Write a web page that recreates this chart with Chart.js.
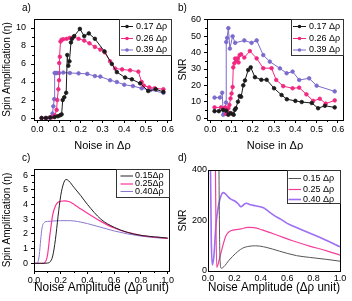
<!DOCTYPE html>
<html>
<head>
<meta charset="utf-8">
<script src="https://cdn.jsdelivr.net/npm/chart.js@4.4.1/dist/chart.umd.min.js"></script>
<style>
  body { margin: 0; background: #fff; width: 352px; height: 301px; position: relative; overflow: hidden;
         font-family: "Liberation Sans", Arial, sans-serif; }
  canvas { position: absolute; }
  .lbl { position: absolute; font-size: 10px; line-height: 10px; color: #000; }
</style>
</head>
<body>
<canvas id="ca" width="176" height="150" style="left:0;top:0"></canvas>
<canvas id="cb" width="176" height="150" style="left:176px;top:0"></canvas>
<canvas id="cc" width="176" height="151" style="left:0;top:150px"></canvas>
<canvas id="cd" width="176" height="151" style="left:176px;top:150px"></canvas>
<div class="lbl" style="left:22px;top:3px">a)</div>
<div class="lbl" style="left:178px;top:3px">b)</div>
<div class="lbl" style="left:22px;top:153px">c)</div>
<div class="lbl" style="left:178px;top:153px">d)</div>
<script>
// ---- a) spin amplification vs noise (measured points)
const aLabels = ["0.17 Δρ", "0.26 Δρ", "0.39 Δρ"];
const aBlackX = [0.02, 0.04, 0.06, 0.08, 0.095, 0.105, 0.112, 0.117, 0.124, 0.133, 0.138, 0.143, 0.148, 0.155, 0.16, 0.17, 0.196, 0.216, 0.237, 0.265, 0.309, 0.343, 0.366, 0.404, 0.435, 0.473, 0.51, 0.545, 0.58];
const aBlackY = [0, 0, 0.05, 0.1, 0.2, 0.3, 0.4, 2.0, 2.3, 2.8, 7.0, 5.8, 6.3, 8.4, 8.8, 9.1, 9.9, 9.1, 9.4, 8.8, 7.4, 6.0, 5.1, 4.5, 4.3, 3.85, 3.0, 3.2, 2.9];
const aPinkX = [0.02, 0.04, 0.06, 0.07, 0.081, 0.089, 0.092, 0.097, 0.1, 0.101, 0.104, 0.107, 0.112, 0.12, 0.135, 0.15, 0.166, 0.19, 0.216, 0.24, 0.265, 0.29, 0.31, 0.335, 0.358, 0.39, 0.427, 0.465, 0.48, 0.49, 0.515, 0.54, 0.58];
const aPinkY = [0, 0, 0.05, 0.1, 0.3, 0.9, 2.0, 3.2, 4.2, 6.1, 6.8, 8.5, 8.7, 8.75, 8.8, 8.9, 9.0, 8.8, 8.6, 8.3, 7.9, 7.6, 7.3, 6.3, 5.5, 5.4, 5.3, 5.15, 4.0, 3.6, 3.4, 3.3, 3.2];
const aPurpleX = [0.02, 0.04, 0.055, 0.065, 0.07, 0.074, 0.078, 0.08, 0.085, 0.09, 0.1, 0.12, 0.15, 0.19, 0.23, 0.265, 0.29, 0.335, 0.366, 0.4, 0.44, 0.48, 0.52, 0.58];
const aPurpleY = [0, 0, 0.05, 0.1, 0.5, 1.3, 2.1, 5.0, 5.0, 5.0, 5.0, 5.05, 5.0, 4.96, 4.9, 4.66, 4.6, 4.2, 4.0, 3.7, 3.55, 3.3, 3.1, 2.8];
const aXTicks = [0, 0.1, 0.2, 0.3, 0.4, 0.5, 0.6];
const aYTicks = [0, 2, 4, 6, 8, 10];

// ---- b) SNR vs noise (measured points)
const bBlackX = [0.02, 0.04, 0.06, 0.075, 0.085, 0.095, 0.105, 0.11, 0.115, 0.12, 0.13, 0.138, 0.145, 0.155, 0.163, 0.178, 0.19, 0.21, 0.24, 0.265, 0.3, 0.335, 0.36, 0.4, 0.43, 0.477, 0.507, 0.539, 0.585];
const bBlackY = [4.2, 4.2, 5.0, 4.5, 2.0, 3.0, 2.5, 2.0, 5.0, 6.0, 10, 13.5, 13, 20, 23, 29.4, 31, 25, 23.4, 23.4, 18.2, 14.1, 11.5, 10.5, 9.8, 9.2, 6.0, 7.5, 6.5];
const bPinkX = [0.02, 0.05, 0.07, 0.075, 0.08, 0.085, 0.09, 0.095, 0.1, 0.105, 0.108, 0.113, 0.117, 0.122, 0.128, 0.133, 0.138, 0.145, 0.16, 0.186, 0.218, 0.249, 0.288, 0.31, 0.343, 0.387, 0.418, 0.452, 0.484, 0.515, 0.543, 0.585];
const bPinkY = [6.5, 6.5, 6.5, 2.5, 4.0, 6.0, 8.0, 12, 15, 19, 31, 33.5, 36.4, 35, 36.5, 34, 38.5, 39, 37, 41, 36.5, 30.5, 30.5, 23.3, 19.5, 18.2, 18.6, 14.5, 10.5, 11.8, 8.8, 10.8];
const bPurpleX = [0.02, 0.045, 0.056, 0.061, 0.066, 0.07, 0.074, 0.075, 0.079, 0.085, 0.092, 0.105, 0.117, 0.16, 0.194, 0.218, 0.249, 0.28, 0.327, 0.359, 0.387, 0.418, 0.465, 0.5, 0.585];
const bPurpleY = [12.5, 12.5, 15.5, 2, 3, 5, 9.5, 46.5, 49, 55, 42.5, 50, 46, 47.5, 46, 47.5, 38.5, 34.5, 30.4, 27.4, 28.4, 23.3, 24.3, 19.8, 16.3];
const bYTicks = [0, 10, 20, 30, 40, 50, 60];

// ---- c) spin amplification (model curves)
const cLabels = ["0.15Δρ", "0.25Δρ", "0.40Δρ"];
const cBlackX = [0, 0.05, 0.1, 0.12, 0.14, 0.16, 0.18, 0.2, 0.22, 0.24, 0.26, 0.3, 0.35, 0.4, 0.5, 0.6, 0.7, 0.8, 0.9, 1.0];
const cBlackY = [0, 0, 0.02, 0.1, 0.5, 1.6, 3.2, 4.6, 5.4, 5.7, 5.6, 5.15, 4.6, 4.0, 3.0, 2.45, 2.1, 1.9, 1.8, 1.72];
const cPinkX = [0, 0.06, 0.08, 0.1, 0.12, 0.14, 0.16, 0.18, 0.2, 0.23, 0.26, 0.3, 0.35, 0.4, 0.5, 0.6, 0.7, 0.8, 0.9, 1.0];
const cPinkY = [0, 0, 0.05, 0.5, 2.0, 3.3, 3.9, 4.15, 4.22, 4.25, 4.2, 4.0, 3.7, 3.4, 2.85, 2.4, 2.1, 1.9, 1.78, 1.7];
const cPurpleX = [0, 0.02, 0.03, 0.04, 0.05, 0.06, 0.08, 0.1, 0.15, 0.2, 0.25, 0.3, 0.35, 0.4, 0.5, 0.6, 0.7, 0.8, 0.9, 1.0];
const cPurpleY = [0, 0, 0.1, 0.6, 1.6, 2.4, 2.8, 2.85, 2.88, 2.9, 2.9, 2.88, 2.8, 2.7, 2.45, 2.2, 2.0, 1.85, 1.75, 1.68];
const cdXTicks = [0, 0.2, 0.4, 0.6, 0.8, 1.0];
const cYTicks = [0, 1, 2, 3, 4, 5, 6];

// ---- d) SNR (model curves)
const dLabels = ["0.15 Δρ", "0.25 Δρ", "0.40 Δρ"];
const dBlackX = [0, 0.07, 0.08, 0.09, 0.1, 0.12, 0.16, 0.21, 0.26, 0.31, 0.36, 0.44, 0.54, 0.67, 0.77, 0.9, 1.0];
const dBlackY = [1500, 1200, 600, 60, 10, 16, 42, 69, 89, 97, 99, 93, 78, 60, 53, 45, 38];
const dPinkX = [0, 0.05, 0.058, 0.066, 0.084, 0.11, 0.135, 0.16, 0.2, 0.25, 0.3, 0.35, 0.41, 0.52, 0.64, 0.77, 0.9, 1.0];
const dPinkY = [1500, 800, 300, 13, 42, 95, 138, 155, 162, 166, 172, 171, 162, 142, 119, 98, 79, 62];
const dPurpleX = [0, 0.015, 0.025, 0.033, 0.045, 0.06, 0.08, 0.1, 0.115, 0.13, 0.15, 0.17, 0.2, 0.23, 0.25, 0.27, 0.29, 0.32, 0.36, 0.42, 0.46, 0.5, 0.55, 0.6, 0.7, 0.8, 0.9, 1.0];
const dPurpleY = [1500, 600, 120, 23, 60, 180, 260, 300, 310, 306, 295, 285, 278, 265, 254, 262, 268, 262, 258, 250, 235, 220, 205, 188, 165, 143, 120, 95];
const dYTicks = [0, 200, 400];

const FONT = '"Liberation Sans", Arial, sans-serif';
Chart.defaults.font.family = FONT;
Chart.defaults.color = "#000";

const pts = (xs, ys) => xs.map((x, i) => ({ x: x, y: ys[i] }));

// frame around the plot area
const frame = {
  id: "frame",
  afterDatasetsDraw(chart) {
    const { ctx, chartArea: a } = chart;
    ctx.save();
    ctx.strokeStyle = "#000";
    ctx.lineWidth = 1;
    ctx.strokeRect(a.left + 0.5, a.top + 0.5, a.right - a.left, a.bottom - a.top);
    ctx.restore();
  }
};

// small ticks half way between the labelled ones
const minorTicks = {
  id: "minorTicks",
  afterDraw(chart, args, opts) {
    if (!opts.len) return;
    const { ctx, chartArea: a, scales } = chart;
    ctx.save();
    ctx.strokeStyle = "#000";
    ctx.lineWidth = 1;
    ctx.beginPath();
    const xs = scales.x.ticks.map(t => t.value);
    for (let i = 0; i < xs.length - 1; i++) {
      const px = Math.round(scales.x.getPixelForValue((xs[i] + xs[i + 1]) / 2)) + 0.5;
      ctx.moveTo(px, a.bottom);
      ctx.lineTo(px, a.bottom + opts.len);
    }
    const ys = scales.y.ticks.map(t => t.value);
    for (let i = 0; i < ys.length - 1; i++) {
      const py = Math.round(scales.y.getPixelForValue((ys[i] + ys[i + 1]) / 2)) + 0.5;
      ctx.moveTo(a.left, py);
      ctx.lineTo(a.left - opts.len, py);
    }
    ctx.stroke();
    ctx.restore();
  }
};

// legend drawn inside a box in the upper right corner
const boxLegend = {
  id: "boxLegend",
  afterDraw(chart, args, o) {
    const { ctx } = chart;
    ctx.save();
    ctx.fillStyle = "#fff";
    ctx.fillRect(o.x, o.y, o.w, o.h);
    ctx.strokeStyle = "#333";
    ctx.lineWidth = 1;
    ctx.strokeRect(o.x + 0.5, o.y + 0.5, o.w, o.h);
    ctx.font = o.font;
    ctx.textBaseline = "middle";
    chart.data.datasets.forEach((ds, i) => {
      const y = o.y + o.rows[i];
      ctx.strokeStyle = ds.borderColor;
      ctx.lineWidth = ds.borderWidth;
      ctx.beginPath();
      ctx.moveTo(o.x + o.line[0], y);
      ctx.lineTo(o.x + o.line[1], y);
      ctx.stroke();
      if (o.marker) {
        ctx.fillStyle = ds.borderColor;
        ctx.beginPath();
        ctx.arc(o.x + (o.line[0] + o.line[1]) / 2, y, 1.8, 0, Math.PI * 2);
        ctx.fill();
      }
      ctx.fillStyle = "#000";
      ctx.fillText(ds.label, o.x + o.text, y);
    });
    ctx.restore();
  }
};

function xAxis(min, max, ticks, title, s) {
  return {
    type: "linear", min: min, max: max,
    afterBuildTicks: sc => { sc.ticks = ticks.map(v => ({ value: v })); },
    afterFit: sc => { sc.height = s.h; sc.paddingLeft = 0; sc.paddingRight = 0; },
    grid: { drawOnChartArea: false, drawTicks: true, tickLength: s.tick, color: "#000" },
    border: { color: "#000" },
    ticks: { padding: s.pad, maxRotation: 0, autoSkip: false, font: { size: 9 }, callback: v => v.toFixed(1) },
    title: { display: true, text: title, font: { size: s.fs, lineHeight: 1 }, padding: { top: 0, bottom: s.tb } }
  };
}

function yAxis(min, max, ticks, title, s) {
  return {
    type: "linear", min: min, max: max,
    afterBuildTicks: sc => { sc.ticks = ticks.map(v => ({ value: v })); },
    afterFit: sc => { sc.width = s.w; sc.paddingTop = 0; sc.paddingBottom = 0; },
    grid: { drawOnChartArea: false, drawTicks: true, tickLength: s.tick, color: "#000" },
    border: { color: "#000" },
    ticks: { padding: s.pad, autoSkip: false, font: { size: 9 }, callback: v => String(v) },
    title: { display: true, text: title, font: { size: s.fs }, padding: { top: s.tp, bottom: 0 } }
  };
}

function dotSeries(label, xs, ys, color) {
  return {
    label: label, data: pts(xs, ys), borderColor: color, backgroundColor: color,
    borderWidth: 1, pointRadius: 1.8, pointBorderWidth: 0.8, tension: 0
  };
}

function curveSeries(label, xs, ys, color, w) {
  return {
    label: label, data: pts(xs, ys), borderColor: color, backgroundColor: color,
    borderWidth: w, pointRadius: 0, cubicInterpolationMode: "monotone"
  };
}

function makeChart(id, datasets, scales, padding, legend, minorLen) {
  return new Chart(document.getElementById(id), {
    type: "line",
    data: { datasets: datasets },
    options: {
      responsive: false,
      animation: false,
      layout: { padding: padding },
      scales: scales,
      plugins: {
        legend: { display: false },
        tooltip: { enabled: false },
        boxLegend: legend,
        minorTicks: { len: minorLen }
      }
    },
    plugins: [frame, minorTicks, boxLegend]
  });
}

const BLACK = "#1a1a1a", PINK = "#f0287f", PURPLE = "#7b6acb";
const legendFont = "9px " + FONT;

makeChart("ca", [
  dotSeries(aLabels[0], aBlackX, aBlackY, BLACK),
  dotSeries(aLabels[1], aPinkX, aPinkY, PINK),
  dotSeries(aLabels[2], aPurpleX, aPurpleY, PURPLE)
], {
  x: xAxis(-0.015, 0.615, aXTicks, "Noise in Δρ", { h: 30, tick: 3, pad: 1, fs: 11, tb: -1.5 }),
  y: yAxis(-0.22, 11, aYTicks, "Spin Amplification (η)", { w: 34, tick: 3, pad: 5, fs: 10, tp: 1.5 })
}, { left: 0, top: 19, right: 5, bottom: 0 },
  { x: 119, y: 19, w: 52, h: 36, rows: [7.5, 19.5, 31], line: [2, 14], text: 17, marker: true, font: legendFont }, 2);

makeChart("cb", [
  dotSeries(aLabels[0], bBlackX, bBlackY, BLACK),
  dotSeries(aLabels[1], bPinkX, bPinkY, PINK),
  dotSeries(aLabels[2], bPurpleX, bPurpleY, PURPLE)
], {
  x: xAxis(-0.0155, 0.624, aXTicks, "Noise in Δρ", { h: 30, tick: 3, pad: 1, fs: 11, tb: -1.5 }),
  y: yAxis(-1.2, 60.6, bYTicks, "SNR", { w: 31, tick: 3, pad: 3, fs: 10.5, tp: 1.2 })
}, { left: 0, top: 19, right: 9, bottom: 0 },
  { x: 115, y: 19, w: 52, h: 36, rows: [7.5, 19.5, 31], line: [2, 15], text: 18, marker: true, font: legendFont }, 2);

makeChart("cc", [
  curveSeries(cLabels[0], cBlackX, cBlackY, "#222", 1),
  curveSeries(cLabels[1], cPinkX, cPinkY, "#ff3399", 1.2),
  curveSeries(cLabels[2], cPurpleX, cPurpleY, "#8a78d0", 1)
], {
  x: xAxis(0, 1.01, cdXTicks, "Noise Amplitude (Δρ unit)", { h: 30, tick: 3, pad: 1, fs: 12, tb: 7 }),
  y: yAxis(-0.52, 6.41, cYTicks, "Spin Amplification (η)", { w: 34, tick: 3, pad: 3, fs: 10, tp: 1.5 })
}, { left: 0, top: 19, right: 7, bottom: 0 },
  { x: 116, y: 19, w: 53, h: 28, rows: [7, 15, 22.5], line: [4.5, 17], text: 19, marker: false, font: legendFont }, 2);

makeChart("cd", [
  curveSeries(dLabels[0], dBlackX, dBlackY, "#555", 1),
  curveSeries(dLabels[1], dPinkX, dPinkY, "#f2409a", 1.2),
  curveSeries(dLabels[2], dPurpleX, dPurpleY, "#9d6ff2", 1.6)
], {
  x: xAxis(0, 1.0, cdXTicks, "Noise Amplitude (Δρ unit)", { h: 30, tick: 0, pad: 2, fs: 12, tb: 7 }),
  y: yAxis(-1, 400, dYTicks, "SNR", { w: 32, tick: 0, pad: 1, fs: 10.5, tp: 1.2 })
}, { left: 0, top: 20, right: 12, bottom: 0 },
  { x: 111, y: 20, w: 53, h: 33, rows: [8.5, 19.5, 29.5], line: [1.5, 14], text: 16, marker: false, font: legendFont }, 0);
</script>
</body>
</html>
